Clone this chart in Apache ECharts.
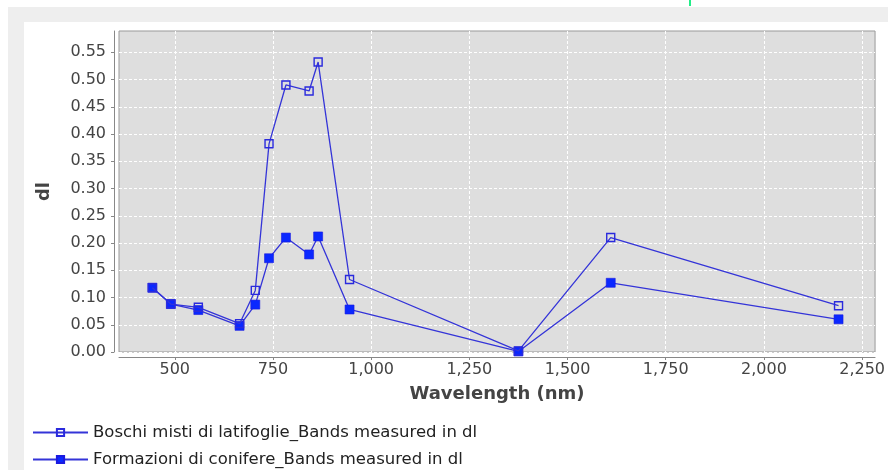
<!DOCTYPE html>
<html>
<head>
<meta charset="utf-8">
<script src="https://cdn.jsdelivr.net/npm/echarts@6/dist/echarts.min.js"></script>
<style>
html,body{margin:0;padding:0;background:#ffffff;}
#chart{width:888px;height:470px;}
</style>
</head>
<body>
<div id="chart"></div>
<script>
const wavelengths = [443, 490, 560, 665, 705, 740, 783, 842, 865, 945, 1375, 1610, 2190];
const boschi = [0.118, 0.088, 0.082, 0.052, 0.113, 0.382, 0.490, 0.479, 0.532, 0.133, 0.002, 0.210, 0.085];
const conifere = [0.118, 0.088, 0.077, 0.048, 0.087, 0.172, 0.210, 0.179, 0.212, 0.078, 0.001, 0.127, 0.060];
const xTicks = [500, 750, 1000, 1250, 1500, 1750, 2000, 2250];
const yTicks = [0.00, 0.05, 0.10, 0.15, 0.20, 0.25, 0.30, 0.35, 0.40, 0.45, 0.50, 0.55];
const seriesNames = ['Boschi misti di latifoglie_Bands measured in dl', 'Formazioni di conifere_Bands measured in dl'];

const FONT = 'DejaVu Sans';
const LINE = '#3434d8';

const chart = echarts.init(document.getElementById('chart'), null, {renderer: 'canvas'});
chart.setOption({
  animation: false,
  backgroundColor: '#ffffff',
  textStyle: {fontFamily: FONT},
  graphic: [
    {type: 'rect', left: 8, top: 7, shape: {width: 880, height: 15}, style: {fill: '#eeeeee'}, silent: true, z: -1},
    {type: 'rect', left: 8, top: 7, shape: {width: 16, height: 463}, style: {fill: '#eeeeee'}, silent: true, z: -1},
    {type: 'rect', left: 689, top: 0, shape: {width: 2, height: 6}, style: {fill: '#22ee88'}, silent: true, z: -1}
  ],
  grid: {
    left: 119, top: 31, right: 11, bottom: 118,
    show: true, backgroundColor: '#dedede', borderColor: '#999999', borderWidth: 1
  },
  legend: {
    orient: 'vertical', left: 32, top: 424, width: 600, height: 80,
    itemWidth: 55, itemHeight: 9, itemGap: 10, padding: 0,
    textStyle: {fontFamily: FONT, fontSize: 16.5, color: '#222222'},
    data: seriesNames
  },
  xAxis: {
    type: 'value', min: 358, max: 2283, offset: 5,
    name: 'Wavelength (nm)', nameLocation: 'middle', nameGap: 28,
    nameTextStyle: {fontFamily: FONT, fontSize: 18, fontWeight: 'bold', color: '#444444'},
    axisLine: {show: true, onZero: false, lineStyle: {color: '#888888', width: 1}},
    axisTick: {show: true, length: 3, customValues: xTicks, lineStyle: {color: '#888888'}},
    axisLabel: {customValues: xTicks, fontFamily: FONT, fontSize: 16, color: '#444444', margin: 5,
      formatter: v => Number(v).toLocaleString('en-US')},
    splitLine: {show: true, lineStyle: {color: '#ffffff', type: [3, 2], width: 1}}
  },
  yAxis: {
    type: 'value', min: 0, max: 0.589, offset: 5,
    name: 'dl', nameLocation: 'middle', nameGap: 61, nameRotate: 90,
    nameTextStyle: {fontFamily: FONT, fontSize: 18, fontWeight: 'bold', color: '#444444'},
    axisLine: {show: true, onZero: false, lineStyle: {color: '#888888', width: 1}},
    axisTick: {show: true, length: 3, customValues: yTicks, lineStyle: {color: '#888888'}},
    axisLabel: {customValues: yTicks, fontFamily: FONT, fontSize: 16, color: '#444444', margin: 8,
      formatter: v => Number(v).toFixed(2)},
    splitLine: {show: true, lineStyle: {color: '#ffffff', type: [3, 2], width: 1}}
  },
  series: [
    {
      name: seriesNames[0], type: 'line',
      data: wavelengths.map((w, i) => [w, boschi[i]]),
      symbol: 'rect', symbolSize: 8, showAllSymbol: true,
      lineStyle: {color: LINE, width: 1.3},
      itemStyle: {color: 'rgba(0,0,0,0)', borderColor: '#2a2add', borderWidth: 1.4},
      z: 3
    },
    {
      name: seriesNames[1], type: 'line',
      data: wavelengths.map((w, i) => [w, conifere[i]]),
      symbol: 'rect', symbolSize: 9, showAllSymbol: true,
      lineStyle: {color: LINE, width: 1.3},
      itemStyle: {color: '#0a28ff', borderColor: '#1a1ae0', borderWidth: 0.6},
      z: 2
    }
  ]
});
</script>
</body>
</html>
